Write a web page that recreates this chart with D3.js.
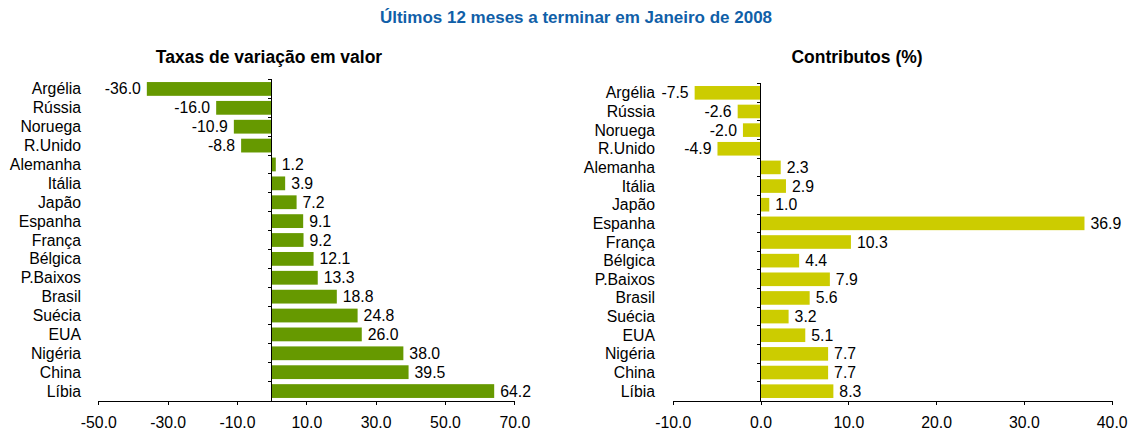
<!DOCTYPE html>
<html lang="pt">
<head>
  <meta charset="UTF-8" />
  <title>Últimos 12 meses a terminar em Janeiro de 2008</title>
  <script src="https://cdn.jsdelivr.net/npm/d3@7"></script>
  <style>
    body {
      margin: 0;
      background: #fff;
      font-family: "Liberation Sans", Arial, sans-serif;
    }
    .axis path, .axis line { stroke: #000; shape-rendering: crispEdges; }
    .axis text { font-size: 15.8px; fill: #000; font-family: "Liberation Sans", Arial, sans-serif; }
  </style>
</head>
<body>
  <div id="chart"></div>

  <script>
    // data
    const countries = ["Argélia", "Rússia", "Noruega", "R.Unido", "Alemanha", "Itália", "Japão",
      "Espanha", "França", "Bélgica", "P.Baixos", "Brasil", "Suécia", "EUA", "Nigéria", "China", "Líbia"];
    const taxas = [-36.0, -16.0, -10.9, -8.8, 1.2, 3.9, 7.2, 9.1, 9.2, 12.1, 13.3, 18.8, 24.8, 26.0, 38.0, 39.5, 64.2];
    const contributos = [-7.5, -2.6, -2.0, -4.9, 2.3, 2.9, 1.0, 36.9, 10.3, 4.4, 7.9, 5.6, 3.2, 5.1, 7.7, 7.7, 8.3];
    const taxasTicks = [-50, -30, -10, 10, 30, 50, 70];
    const contribTicks = [-10, 0, 10, 20, 30, 40];

    const width = 1133, height = 433;
    const fontSize = 15.8;

    // plain hyphen for negatives, like the original
    const fmt = d3.formatLocale({
      decimal: ".", thousands: ",", grouping: [3], currency: ["", ""], minus: "-"
    }).format(".1f");

    const svg = d3.select("#chart")
      .append("svg")
      .attr("width", width)
      .attr("height", height);

    svg.append("text")
      .attr("x", 576)
      .attr("y", 23)
      .attr("text-anchor", "middle")
      .attr("font-size", 17)
      .attr("font-weight", "bold")
      .attr("fill", "#1060a8")
      .text("Últimos 12 meses a terminar em Janeiro de 2008");

    function drawPanel(opts) {
      const g = svg.append("g");

      const x = d3.scaleLinear().domain(opts.domain).range(opts.xRange);
      const y = d3.scaleBand().domain(countries).range(opts.yRange).padding(0);
      const barH = y.bandwidth() * 0.73;
      const x0 = x(0);

      g.append("text")
        .attr("x", opts.titleX)
        .attr("y", 63)
        .attr("text-anchor", "middle")
        .attr("font-size", 17.5)
        .attr("font-weight", "bold")
        .attr("fill", "#000")
        .text(opts.title);

      const data = countries.map((c, i) => ({ c, v: opts.values[i] }));

      g.selectAll(".bar")
        .data(data)
        .enter()
        .append("rect")
        .attr("class", "bar")
        .attr("x", d => Math.min(x(d.v), x0))
        .attr("width", d => Math.abs(x(d.v) - x0))
        .attr("y", d => y(d.c) + (y.bandwidth() - barH) / 2)
        .attr("height", barH)
        .attr("fill", opts.color);

      // value labels
      g.selectAll(".val")
        .data(data)
        .enter()
        .append("text")
        .attr("class", "val")
        .attr("x", d => d.v < 0 ? x(d.v) - 6 : x(d.v) + 6)
        .attr("y", d => y(d.c) + y.bandwidth() / 2)
        .attr("dy", "0.35em")
        .attr("text-anchor", d => d.v < 0 ? "end" : "start")
        .attr("font-size", fontSize)
        .attr("fill", "#000")
        .text(d => fmt(d.v));

      // category labels
      g.selectAll(".cat")
        .data(countries)
        .enter()
        .append("text")
        .attr("class", "cat")
        .attr("x", opts.labelX)
        .attr("y", d => y(d) + y.bandwidth() / 2)
        .attr("dy", "0.35em")
        .attr("text-anchor", "end")
        .attr("font-size", fontSize)
        .attr("fill", "#000")
        .text(d => d);

      // bottom axis
      const yBottom = opts.yRange[1];
      g.append("g")
        .attr("class", "axis")
        .attr("transform", `translate(0, ${yBottom})`)
        .call(d3.axisBottom(x)
          .tickValues(opts.ticks)
          .tickSize(4)
          .tickSizeOuter(0)
          .tickPadding(12)
          .tickFormat(fmt));

      // vertical axis at zero with ticks between categories
      g.append("line")
        .attr("x1", x0).attr("x2", x0)
        .attr("y1", opts.yRange[0]).attr("y2", yBottom)
        .attr("stroke", "#000")
        .attr("shape-rendering", "crispEdges");

      g.selectAll(".ytick")
        .data(countries)
        .enter()
        .append("line")
        .attr("class", "ytick")
        .attr("x1", x0 - 4).attr("x2", x0)
        .attr("y1", d => y(d)).attr("y2", d => y(d))
        .attr("stroke", "#000")
        .attr("shape-rendering", "crispEdges");
    }

    drawPanel({
      title: "Taxas de variação em valor",
      titleX: 269,
      values: taxas,
      domain: [-50, 70],
      ticks: taxasTicks,
      xRange: [98.3, 514.3],
      yRange: [79.5, 400.5],
      labelX: 81,
      color: "#669900"
    });

    drawPanel({
      title: "Contributos (%)",
      titleX: 857,
      values: contributos,
      domain: [-10, 40],
      ticks: contribTicks,
      xRange: [672.7, 1111.7],
      yRange: [83.5, 400.5],
      labelX: 655,
      color: "#cccc00"
    });
  </script>
</body>
</html>
